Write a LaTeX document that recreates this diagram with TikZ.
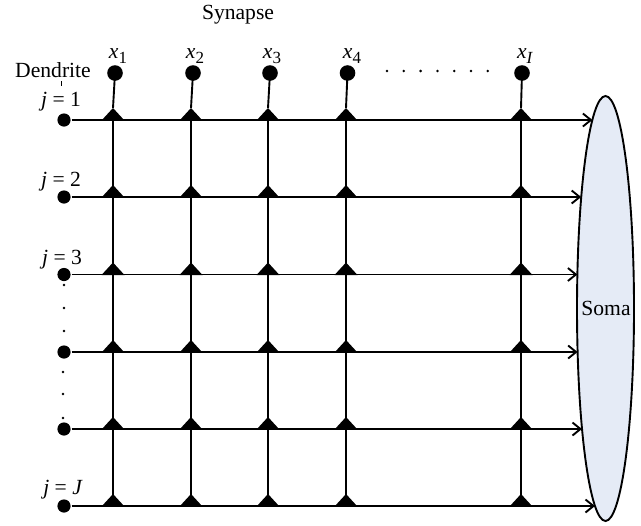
\documentclass[tikz,border=0pt]{standalone}
\usepackage{fontspec}
\setmainfont{Liberation Serif}
\usetikzlibrary{arrows.meta,shapes.geometric}
\definecolor{somafill}{HTML}{E5EBF6}
\newcommand\xsub[2]{\textit{#1}\raisebox{-0.5ex}{\fontsize{8.5}{9}\selectfont #2}}
\begin{document}
\begin{tikzpicture}[x=0.5pt,y=-0.5pt,line width=0.95pt,
  font=\fontsize{10.8}{12}\selectfont,
  dend/.style={circle,fill=black,inner sep=0pt,minimum size=6.6pt},
  syn/.style={circle,fill=black,inner sep=0pt,minimum size=7.8pt},
  lbl/.style={inner sep=0pt},
  arr/.style={-{Straight Barb[length=4pt,width=6.5pt]}},
  syntri/.pic={\fill (-11.5,0.5) -- (0,-12) -- (11.5,0.5) -- cycle;}]
\useasboundingbox (0,0) rectangle (641,525);
% soma
\draw[fill=somafill] (605.5,308.5) ellipse [x radius=28.5, y radius=212.5];
\node[lbl] (soma) at (606,308.5) {Soma};
% dendrite dots
\node[dend] (d1) at (64,120) {};
\node[dend] (d2) at (64,197) {};
\node[dend] (d3) at (64,274.5) {};
\node[dend] (d4) at (64,352) {};
\node[dend] (d5) at (64,429) {};
\node[dend] (d6) at (64,506) {};
% arrow ends on soma boundary
\coordinate (e1) at (592.4,120);
\coordinate (e2) at (581.2,197);
\coordinate (e3) at (577.4,274.5);
\coordinate (e4) at (577.6,352);
\coordinate (e5) at (582.0,429);
\coordinate (e6) at (595.0,506);
\foreach \i in {1,...,6} {\draw[arr] (d\i) -- (e\i);}
% columns
\foreach \c/\x in {1/113,2/191,3/268,4/346,5/521} {
  \coordinate (top\c) at (\x,120);
  \coordinate (bot\c) at (\x,506);
  \coordinate (apex\c) at (\x,108);
  \draw (top\c) -- (bot\c);
  \foreach \y in {120,197,274.5,352,429,506} {\pic at (\x,\y) {syntri};}
}
% synapse inputs
\node[syn] (s1) at (115,73) {};
\node[syn] (s2) at (193,73) {};
\node[syn] (s3) at (270,73) {};
\node[syn] (s4) at (347.5,73) {};
\node[syn] (s5) at (522,73) {};
\foreach \c in {1,...,5} {\draw (s\c.center) -- (apex\c);}
% input labels
\node[lbl] (lx1) at (118,56) {\xsub{x}{1}};
\node[lbl] (lx2) at (195,56) {\xsub{x}{2}};
\node[lbl] (lx3) at (272,56) {\xsub{x}{3}};
\node[lbl] (lx4) at (352,56) {\xsub{x}{4}};
\node[lbl] (lx5) at (525,56) {\xsub{x}{\textit{I}}};
\foreach \k in {0,...,6} {\fill (387+16.8*\k,71) circle (1.4);}
% row labels
\node[lbl] (lj1) at (61,102) {\textit{j} = 1};
\node[lbl] (lj2) at (61,182) {\textit{j} = 2};
\node[lbl] (lj3) at (62,260) {\textit{j} = 3};
\node[lbl] (ljJ) at (63,490) {\textit{j} = \textit{J}};
\foreach \y in {285,308,331} {\fill (64,\y) circle (1.4);}
\foreach \y in {372,394,418} {\fill (63,\y) circle (1.4);}
% titles
\node[lbl] (syn) at (238,15) {Synapse};
\node[lbl] (den) at (53,70) {Dendrite};
\coordinate (t1) at (61,81);
\coordinate (t2) at (61,86);
\draw[line width=0.4pt] (t1) -- (t2);
\end{tikzpicture}
\end{document}
